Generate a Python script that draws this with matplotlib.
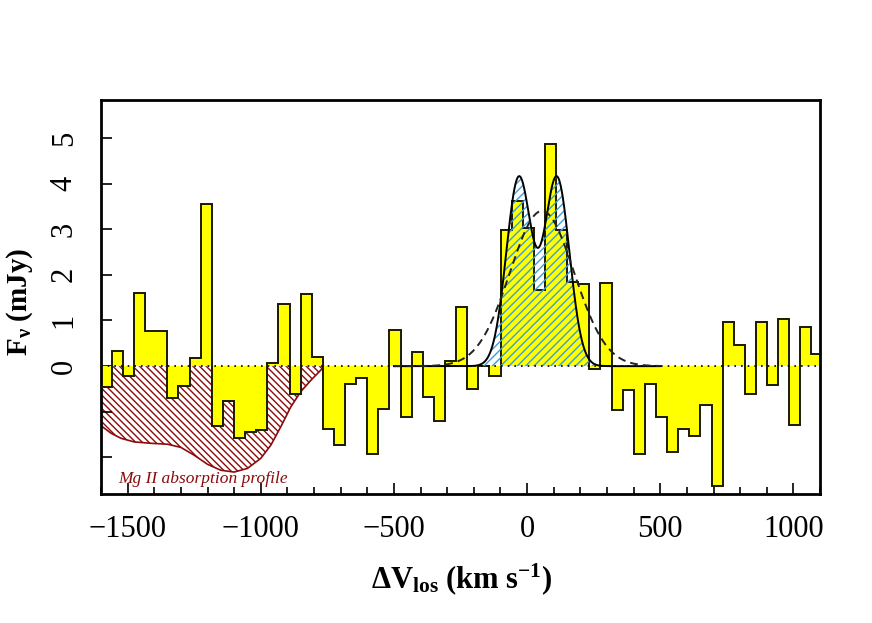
import numpy as np
import matplotlib
matplotlib.use("Agg")
import matplotlib.pyplot as plt

plt.rcParams['font.family'] = ['Liberation Serif', 'DejaVu Serif']
plt.rcParams['mathtext.fontset'] = 'custom'
plt.rcParams['mathtext.rm'] = 'Liberation Serif'
plt.rcParams['mathtext.it'] = 'Liberation Serif:italic'
plt.rcParams['mathtext.bf'] = 'Liberation Serif:bold'
plt.rcParams['hatch.linewidth'] = 1.0

# ---- data ----
channel_start = -1601.0      # km/s, left edge of first velocity channel
channel_width = 41.7         # km/s
flux = [-0.46, 0.34, -0.21, 1.61, 0.77, 0.78, -0.69, -0.43, 0.17, 3.56,
        -1.31, -0.77, -1.58, -1.44, -1.40, 0.06, 1.36, -0.61, 1.59, 0.20,
        -1.37, -1.73, -0.40, -0.25, -1.93, -0.93, 0.79, -1.11, 0.31, -0.67,
        -1.20, 0.11, 1.30, -0.51, 0.00, -0.22, 2.99, 3.61, 3.03, 1.66,
        4.87, 2.99, 1.85, 1.79, -0.06, 1.82, -0.96, -0.53, -1.93, -0.40,
        -1.12, -1.88, -1.37, -1.53, -0.85, -2.63, 0.97, 0.46, -0.60, 0.96,
        -0.42, 1.04, -1.28, 0.86, 0.26]

# Mg II absorption profile (velocity, flux)
mg_v = [-1600, -1594, -1562, -1525, -1475, -1412, -1350, -1300, -1250, -1200,
        -1150, -1100, -1050, -1000, -962, -925, -887, -850, -812, -775, -762]
mg_f = [-1.31, -1.33, -1.47, -1.58, -1.66, -1.69, -1.71, -1.78, -1.95, -2.15,
        -2.28, -2.32, -2.24, -2.02, -1.73, -1.33, -0.89, -0.56, -0.31, -0.09, -0.01]

# double Gaussian fit: (amplitude, centre, sigma) for each component
dg_amp = [4.12, 4.12]
dg_cen = [-31.0, 112.0]
dg_sig = [47.0, 47.0]
# single Gaussian fit
sg_amp, sg_cen, sg_sig = 3.40, 56.0, 120.0
fit_range = [-500, 500]

xticks = [-1500, -1000, -500, 0, 500, 1000]
yticks = [-2, -1, 0, 1, 2, 3, 4, 5]
ytick_labels = ['', '', '0', '1', '2', '3', '4', '5']

# ---- plot ----
fig = plt.figure(figsize=(8.72, 6.23), dpi=100)
ax = fig.add_axes([0.1158, 0.2071, 0.8246, 0.6324])

edges = channel_start + channel_width * np.arange(len(flux) + 1)
red = '#8b0a0a'
blue = '#3a9ee0'

# Mg II hatched absorption
ax.fill_between(mg_v, mg_f, 0, facecolor='none', edgecolor=red,
                hatch='\\\\\\\\\\', linewidth=0, zorder=1)
ax.plot(mg_v, mg_f, color=red, lw=1.2, zorder=1.5)

# spectrum
ax.stairs(flux, edges, baseline=0, fill=True, color='#ffff00', lw=0, zorder=2)
ax.stairs(flux, edges, baseline=None, color='#1a1a00', lw=1.4, zorder=3)

# fits
v = np.linspace(fit_range[0], fit_range[1], 2001)
dg = sum(a * np.exp(-(v - c) ** 2 / (2 * s ** 2)) for a, c, s in zip(dg_amp, dg_cen, dg_sig))
sg = sg_amp * np.exp(-(v - sg_cen) ** 2 / (2 * sg_sig ** 2))
ax.fill_between(v, 0, dg, facecolor='none', edgecolor=blue, hatch='////',
                linewidth=0, zorder=4)
ax.axhline(0, color='black', ls=(0, (1, 3)), lw=1.2, zorder=5)
ax.plot(v, dg, color='black', lw=1.4, zorder=6)
ax.plot(v, sg, color='#222222', lw=1.4, ls=(0, (4, 2.6)), zorder=6)

ax.text(-1535, -2.56, 'Mg II absorption profile', color=red, style='italic',
        fontsize=12.5, va='baseline', ha='left', zorder=7)

ax.set_xlim(-1600, 1100)
ax.set_ylim(-2.8, 5.83)
ax.set_xticks(xticks)
ax.set_xticks(np.arange(-1600, 1101, 100), minor=True)
ax.set_yticks(yticks)
ax.set_yticklabels(ytick_labels)
ax.tick_params(axis='x', which='major', direction='in', length=8, width=1.2,
               labelsize=22, pad=15, top=False)
ax.tick_params(axis='x', which='minor', direction='in', length=5, width=1.2, top=False)
ax.tick_params(axis='y', which='major', direction='in', length=8, width=1.2,
               labelsize=22, pad=16, right=False, labelrotation=90)
for lab in ax.get_yticklabels():
    lab.set_va('center')
for sp in ax.spines.values():
    sp.set_linewidth(2.0)

ax.set_xlabel(r'$\mathbf{\Delta V_{los}\ (km\ s^{-1})}$', fontsize=22)
ax.set_ylabel(r'$\mathbf{F_{\nu}\ (mJy)}$', fontsize=21)
ax.xaxis.set_label_coords(0.502, -0.17)
ax.yaxis.set_label_coords(-0.092, 0.487)

fig.savefig('out.png', dpi=100)
